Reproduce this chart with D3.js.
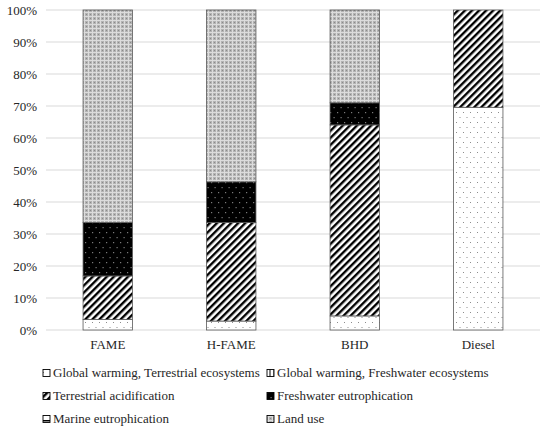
<!DOCTYPE html>
<html>
<head>
<meta charset="utf-8">
<script src="https://cdn.jsdelivr.net/npm/d3@7"></script>
<style>
  body { margin: 0; background: #fff; font-family: "Liberation Serif", serif; }
</style>
</head>
<body>
<div id="container"></div>
<script>
// values in percent
var categories = ["FAME", "H-FAME", "BHD", "Diesel"];
var series = ["Global warming, Terrestrial ecosystems", "Global warming, Freshwater ecosystems",
              "Terrestrial acidification", "Freshwater eutrophication",
              "Marine eutrophication", "Land use"];
var gw_terrestrial = [3.3, 2.8, 4.4, 69.6];
var gw_freshwater  = [0, 0, 0, 0];
var terr_acid      = [13.6, 30.8, 59.7, 30.4];
var fresh_eutro    = [16.7, 12.7, 6.9, 0];
var marine_eutro   = [0, 0, 0, 0];
var land_use       = [66.4, 53.7, 29.0, 0];
var y_ticks = [0, 10, 20, 30, 40, 50, 60, 70, 80, 90, 100];

var TEXT_STYLE = "font-family: 'Liberation Serif', serif; font-size: 13px; fill: #262626";

var init = function(){
    var width = 550, height = 430;
    var svg = d3.select("#container").append("svg")
        .attr("width", width).attr("height", height);

    var defs = svg.append("defs");

    // dotted white
    var p = defs.append("pattern").attr("id", "p0").attr("patternUnits", "userSpaceOnUse")
        .attr("width", 7).attr("height", 10);
    p.append("rect").attr("width", 7).attr("height", 10).attr("fill", "#fff");
    p.append("rect").attr("x", 1).attr("y", 2).attr("width", 1).attr("height", 1).attr("fill", "#8c8c8c");
    p.append("rect").attr("x", 4.5).attr("y", 7).attr("width", 1).attr("height", 1).attr("fill", "#8c8c8c");

    // vertical stripes
    p = defs.append("pattern").attr("id", "p1").attr("patternUnits", "userSpaceOnUse")
        .attr("width", 4).attr("height", 4);
    p.append("rect").attr("width", 4).attr("height", 4).attr("fill", "#fff");
    p.append("rect").attr("x", 1.5).attr("width", 1).attr("height", 4).attr("fill", "#000");

    // thick diagonal hatch
    p = defs.append("pattern").attr("id", "p2").attr("patternUnits", "userSpaceOnUse")
        .attr("width", 5).attr("height", 5).attr("patternTransform", "rotate(45)");
    p.append("rect").attr("width", 5).attr("height", 5).attr("fill", "#fff");
    p.append("rect").attr("width", 2.4).attr("height", 5).attr("fill", "#000");

    // black with grey dots
    p = defs.append("pattern").attr("id", "p3").attr("patternUnits", "userSpaceOnUse")
        .attr("width", 7).attr("height", 10);
    p.append("rect").attr("width", 7).attr("height", 10).attr("fill", "#000");
    p.append("rect").attr("x", 1).attr("y", 2).attr("width", 1.2).attr("height", 1.2).attr("fill", "#7a7a7a");
    p.append("rect").attr("x", 4.5).attr("y", 7).attr("width", 1.2).attr("height", 1.2).attr("fill", "#7a7a7a");

    // marine: white with black bar
    p = defs.append("pattern").attr("id", "p4").attr("patternUnits", "userSpaceOnUse")
        .attr("width", 6).attr("height", 6);
    p.append("rect").attr("width", 6).attr("height", 6).attr("fill", "#fff");
    p.append("rect").attr("width", 6).attr("height", 1.5).attr("fill", "#000");

    // land use: fine grey check
    p = defs.append("pattern").attr("id", "p5").attr("patternUnits", "userSpaceOnUse")
        .attr("width", 4).attr("height", 4);
    p.append("rect").attr("width", 4).attr("height", 4).attr("fill", "#b3b3b3");
    p.append("rect").attr("width", 4).attr("height", 1).attr("fill", "#dcdcdc");
    p.append("rect").attr("width", 1).attr("height", 4).attr("fill", "#dcdcdc");
    p.append("rect").attr("x", 2).attr("y", 2).attr("width", 1).attr("height", 1).attr("fill", "#8a8a8a");

    var fills = ["url(#p0)", "url(#p1)", "url(#p2)", "url(#p3)", "url(#p4)", "url(#p5)"];
    var values = [gw_terrestrial, gw_freshwater, terr_acid, fresh_eutro, marine_eutro, land_use];

    var x = d3.scaleBand().domain(categories).range([46, 540])
        .paddingInner(0.6).paddingOuter(0.3);
    var y = d3.scaleLinear().domain([0, 100]).range([330, 10]);

    // grid lines
    svg.append("g").selectAll("line").data(y_ticks).join("line")
        .attr("x1", 46).attr("x2", 540)
        .attr("y1", function(d){ return y(d); })
        .attr("y2", function(d){ return y(d); })
        .attr("stroke", "#d9d9d9").attr("stroke-width", 1);

    // y axis labels
    var yAxis = d3.axisLeft(y).tickValues(y_ticks)
        .tickFormat(function(d){ return d + "%"; }).tickSize(0).tickPadding(0);
    var ya = svg.append("g").attr("transform", "translate(37,0)").call(yAxis);
    ya.select(".domain").remove();
    ya.selectAll("text").attr("style", TEXT_STYLE);

    // x axis labels
    var xAxis = d3.axisBottom(x).tickSize(0).tickPadding(0);
    var xa = svg.append("g").attr("transform", "translate(0,340)").call(xAxis);
    xa.select(".domain").remove();
    xa.selectAll("text").attr("style", TEXT_STYLE);

    // stacked bars
    var rows = categories.map(function(c, i){
        var r = { cat: c };
        series.forEach(function(s, j){ r[s] = values[j][i]; });
        return r;
    });
    var stack = d3.stack().keys(series)(rows);

    svg.append("g").selectAll("g").data(stack).join("g")
        .attr("fill", function(d, i){ return fills[i]; })
        .selectAll("rect").data(function(d){ return d.filter(function(v){ return v[1] - v[0] > 0; }); })
        .join("rect")
        .attr("x", function(d){ return x(d.data.cat); })
        .attr("y", function(d){ return y(d[1]); })
        .attr("width", x.bandwidth())
        .attr("height", function(d){ return y(d[0]) - y(d[1]); })
        .attr("stroke", "#595959").attr("stroke-width", 0.8);

    // legend
    var leg_x = [43, 267];
    var leg_y = [373, 396, 419];
    var legend = svg.append("g");
    series.forEach(function(s, i){
        var lx = leg_x[i % 2], ly = leg_y[Math.floor(i / 2)];
        legend.append("rect")
            .attr("x", lx).attr("y", ly - 3.5)
            .attr("width", 7).attr("height", 7)
            .attr("fill", fills[i]).attr("stroke", "#000").attr("stroke-width", 0.9);
        legend.append("text")
            .attr("x", lx + 10).attr("y", ly).attr("dy", "0.33em")
            .attr("style", TEXT_STYLE)
            .text(s);
    });
};

init();
</script>
</body>
</html>
